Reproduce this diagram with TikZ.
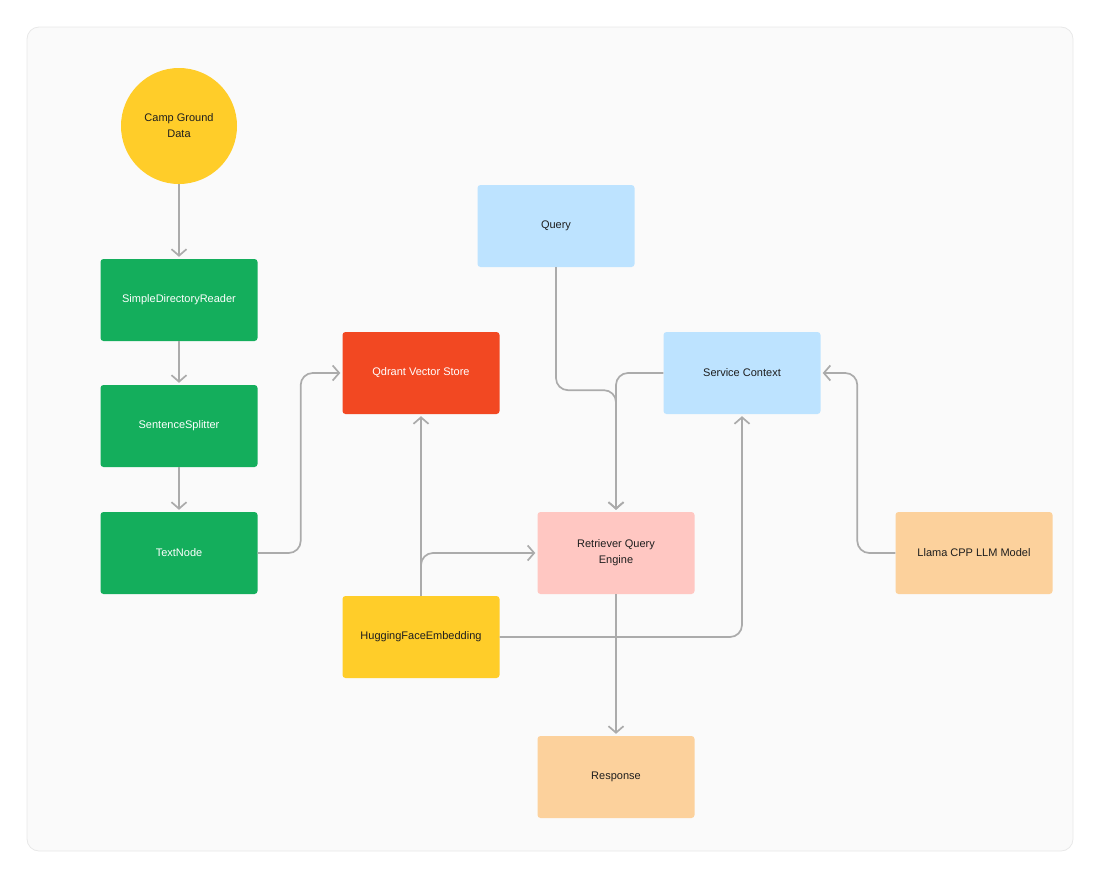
\documentclass[tikz,border=0pt]{standalone}
\usepackage{fontspec}
\setmainfont{Liberation Sans}
\usetikzlibrary{arrows.meta}
\definecolor{panel}{HTML}{FAFAFA}
\definecolor{panelline}{HTML}{E8E8E8}
\definecolor{sun}{HTML}{FFCD29}
\definecolor{leafgreen}{HTML}{14AE5C}
\definecolor{storered}{HTML}{F24822}
\definecolor{skyblue}{HTML}{BDE3FF}
\definecolor{rosepink}{HTML}{FFC7C2}
\definecolor{peach}{HTML}{FCD19C}
\definecolor{wire}{HTML}{ABABAB}
\definecolor{ink}{HTML}{1E1E1E}

\begin{document}
\begin{tikzpicture}[x=1pt, y=-1pt,
                every node/.style={align=center, font=\fontsize{11}{16}\selectfont, text=ink},
                box/.style={rectangle, rounded corners=3pt, minimum width=157pt, minimum height=82pt, inner sep=0pt},
                source/.style={circle, fill=sun, minimum size=116pt, inner sep=0pt},
                link/.style={draw=wire, line width=1.7pt, rounded corners=12pt, -{Straight Barb[length=6.5pt, width=15pt]}, shorten >=2pt}
            ]
                \useasboundingbox (0,0) rectangle (1100,878);
                \draw[fill=panel, draw=panelline, line width=0.8pt, rounded corners=12pt] (27,27) rectangle (1073,851);

                % ingestion column
                \node[source] (camp) at (179,126) {Camp Ground\\Data};
                \node[box, fill=leafgreen, text=white] (reader) at (179,300) {SimpleDirectoryReader};
                \node[box, fill=leafgreen, text=white] (splitter) at (179,426) {SentenceSplitter};
                \node[box, fill=leafgreen, text=white] (textnode) at (179,553) {TextNode};

                % storage and querying
                \node[box, fill=storered, text=white] (qdrant) at (421,373) {Qdrant Vector Store};
                \node[box, fill=sun] (embed) at (421,637) {HuggingFaceEmbedding};
                \node[box, fill=skyblue] (query) at (556,226) {Query};
                \node[box, fill=skyblue] (service) at (742,373) {Service Context};
                \node[box, fill=rosepink] (retriever) at (616,553) {Retriever Query\\Engine};
                \node[box, fill=peach] (llama) at (974,553) {Llama CPP LLM Model};
                \node[box, fill=peach] (response) at (616,777) {Response};

                \draw[link] (camp) -- (reader);
                \draw[link] (reader) -- (splitter);
                \draw[link] (splitter) -- (textnode);
                \draw[link] (textnode.east) -- ++(43,0) |- (qdrant.west);
                \draw[link] (embed.north) -- (qdrant.south);
                \draw[link] (embed.north) |- (retriever.west);
                \draw[link] (query.south) -- ++(0,123) -| (retriever.north);
                \draw[link] (service.west) -| (retriever.north);
                \draw[link] (embed.east) -| (service.south);
                \draw[link] (llama.west) -- ++(-38,0) |- (service.east);
                \draw[link] (retriever) -- (response);
            \end{tikzpicture}
\end{document}
